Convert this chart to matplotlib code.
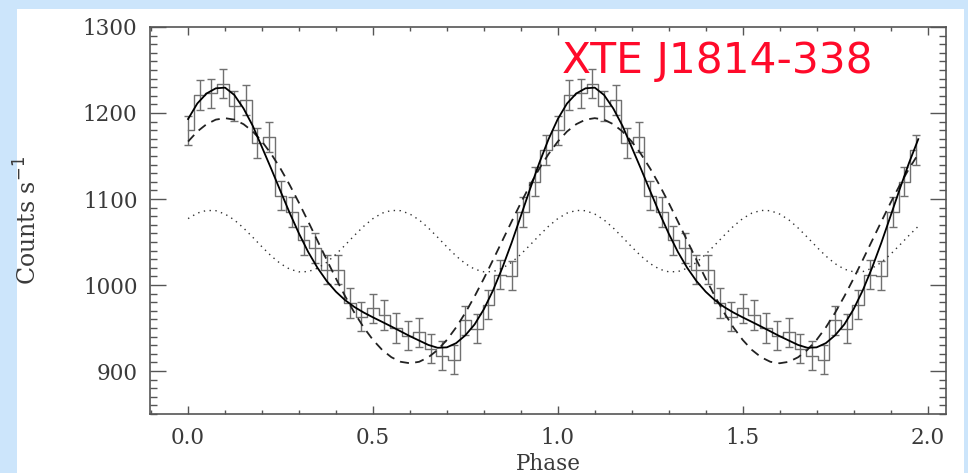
import numpy as np
import matplotlib
matplotlib.use("Agg")
import matplotlib.pyplot as plt
from matplotlib.patches import Rectangle
from matplotlib.ticker import MultipleLocator

# ---- data (one pulse cycle, 32 phase bins; plotted twice) ----
counts = [1180, 1221, 1223, 1234, 1208, 1215, 1165, 1172, 1104, 1085, 1052, 1043,
          1018, 1018, 979, 963, 973, 965, 950, 941, 945, 926, 918, 913,
          959, 949, 977, 1012, 1011, 1085, 1120, 1157]
errors = [17] * 32

fit_total = [1193.0, 1211.1, 1222.7, 1228.7, 1229.5, 1221.0, 1205.3, 1185.0, 1160.1, 1135.0,
             1109.1, 1083.6, 1059.8, 1038.3, 1020.0, 1004.6, 992.2, 982.3, 974.4, 968.0,
             962.4, 957.1, 951.7, 946.1, 940.5, 935.4, 930.3, 927.0, 927.5, 932.4,
             941.5, 954.2, 971.8, 993.9, 1020.0, 1049.0, 1080.2, 1111.7, 1142.0, 1169.6]
fit_fundamental = [1166.8, 1178.5, 1187.0, 1192.3, 1194.0, 1192.3, 1187.0, 1178.5, 1166.8, 1152.3,
                   1135.3, 1116.2, 1095.5, 1073.7, 1051.5, 1029.3, 1007.5, 986.8, 967.7, 950.7,
                   936.2, 924.5, 916.0, 910.7, 909.0, 910.7, 916.0, 924.5, 936.2, 950.7,
                   967.7, 986.8, 1007.5, 1029.3, 1051.5, 1073.7, 1095.5, 1116.2, 1135.3, 1152.3]
# first harmonic: half a cycle (period 0.5), sampled every 0.025
fit_harmonic = [1077.2, 1083.6, 1086.7, 1086.4, 1082.5, 1075.7, 1066.3, 1055.5, 1044.3, 1033.7,
                1024.8, 1018.4, 1015.3, 1015.6, 1019.5, 1026.3, 1035.7, 1046.5, 1057.7, 1068.3]

x_ticks = [0.0, 0.5, 1.0, 1.5, 2.0]
x_ticklabels = ["0.0", "0.5", "1.0", "1.5", "2.0"]
y_ticks = [900, 1000, 1100, 1200, 1300]
title_text = "XTE J1814-338"

# ---- build series ----
nb = len(counts)
data_y = np.array(counts * 2, dtype=float)
data_e = np.array(errors * 2, dtype=float)
data_x = np.arange(2 * nb) / nb

tot_y = np.array(fit_total * 2)
fun_y = np.array(fit_fundamental * 2)
har_y = np.array(fit_harmonic * 4)
curve_x = np.arange(len(tot_y)) * 0.025

# ---- figure ----
W, H = 968, 473
fig = plt.figure(figsize=(W / 100, H / 100), dpi=100)
fig.patch.set_facecolor("#cce5fb")
fig.patches.append(Rectangle((17 / W, 0), (964 - 17) / W, (H - 9) / H,
                             transform=fig.transFigure, facecolor="white",
                             edgecolor="none", zorder=-5))

L, R, T, B = 150, 946, 27, 414
ax = fig.add_axes([L / W, (H - B) / H, (R - L) / W, (B - T) / H])
ax.set_zorder(2)
ax.set_facecolor("white")

gray = "#707070"
ax.errorbar(data_x, data_y, yerr=data_e, fmt="none", ecolor=gray, elinewidth=1.0,
            capsize=2.6, capthick=1.0, zorder=2)
ax.plot(data_x, data_y, drawstyle="steps-mid", color=gray, lw=1.0, zorder=2)

ax.plot(curve_x, tot_y, color="black", lw=1.3, zorder=4)
ax.plot(curve_x, fun_y, color="#222222", lw=1.3, linestyle=(0, (5, 3.5)), zorder=3)
ax.plot(curve_x, har_y, color="#333333", lw=1.0, linestyle=(0, (1, 3.2)), zorder=3)

ax.set_xlim(-0.103, 2.05)
ax.set_ylim(850, 1300)

ax.set_xticks(x_ticks)
ax.set_xticklabels(x_ticklabels)
ax.set_yticks(y_ticks)
ax.xaxis.set_minor_locator(MultipleLocator(0.1))
ax.yaxis.set_minor_locator(MultipleLocator(10))

tick_color = "#555555"
ax.tick_params(axis="both", which="both", direction="in", top=True, right=True,
               colors=tick_color, labelcolor="#3a3a3a", width=1.0)
ax.tick_params(axis="y", which="major", length=11.5, pad=9, labelsize=15.5)
ax.tick_params(axis="y", which="minor", length=5)
ax.tick_params(axis="x", which="major", length=6, pad=9, labelsize=15.5)
ax.tick_params(axis="x", which="minor", length=3)
for lab in ax.get_xticklabels() + ax.get_yticklabels():
    lab.set_family("DejaVu Serif")

for s in ax.spines.values():
    s.set_color(tick_color)
    s.set_linewidth(1.2)

ax.set_xlabel("Phase", family="DejaVu Serif", fontsize=15.5, color="#3a3a3a", labelpad=3)
ax.set_ylabel("Counts s$^{-1}$", family="DejaVu Serif", fontsize=17, color="#3a3a3a")
ax.yaxis.set_label_coords((42 - L) / (R - L), 0.5)

fig.text(562 / W, 1 - 73 / H, title_text, color="#ff0a2a", fontsize=30.5,
         family="DejaVu Sans", ha="left", va="baseline", zorder=10)

fig.savefig("out.png", dpi=100, facecolor=fig.get_facecolor())
